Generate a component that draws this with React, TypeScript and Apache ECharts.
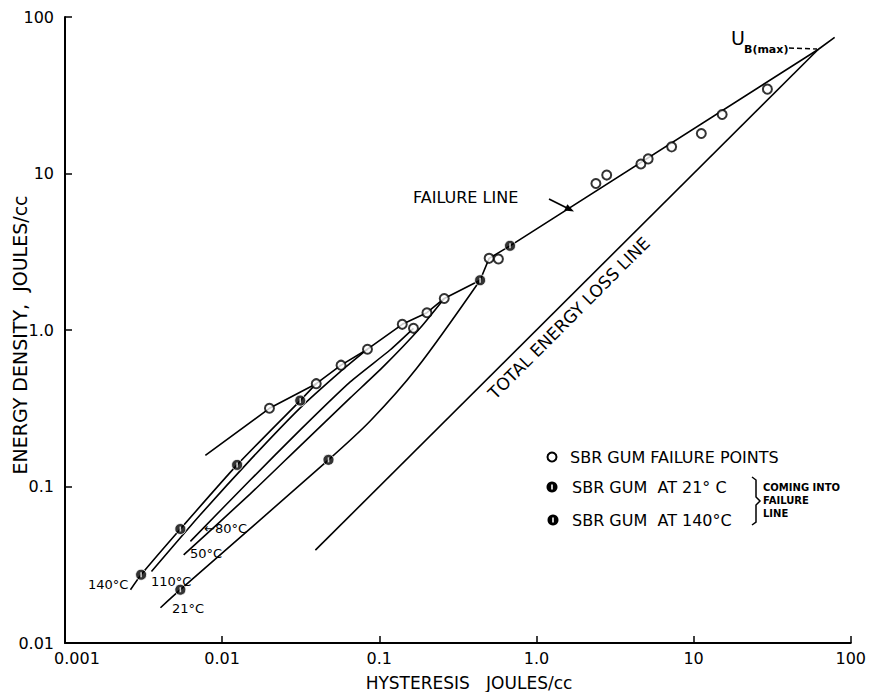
import React, { useEffect, useRef } from 'react';
import * as echarts from 'echarts';

// Tick labels
const xTickLabels = ['0.001', '0.01', '0.1', '1.0', '10', '100'];
const yTickLabels = ['0.01', '0.1', '1.0', '10', '100'];

// SBR gum failure points (open circles)
const failurePoints: [number, number][] = [
  [0.0200, 0.316], [0.0397, 0.454], [0.0571, 0.596], [0.0841, 0.754], [0.140, 1.087],
  [0.165, 1.025], [0.201, 1.29], [0.259, 1.59], [0.500, 2.87], [0.573, 2.84],
  [2.39, 8.64], [2.80, 9.77], [4.62, 11.5], [5.14, 12.4], [7.25, 14.8],
  [11.2, 18.0], [15.2, 23.8], [29.5, 34.6],
];
// SBR gum at 21 C (filled)
const gum21Points: [number, number][] = [
  [0.00542, 0.0219], [0.0475, 0.148], [0.438, 2.08], [0.679, 3.45],
];
// SBR gum at 140 C (filled)
const gum140Points: [number, number][] = [
  [0.00305, 0.0273], [0.00542, 0.0535], [0.01245, 0.1374], [0.0314, 0.354],
];

// Failure line
const failureLine: [number, number][] = [
  [0.00782, 0.158], [0.0200, 0.316], [0.0397, 0.454], [0.0571, 0.596], [0.0841, 0.754],
  [0.140, 1.087], [0.201, 1.29], [0.259, 1.59], [0.438, 2.08], [0.500, 2.87],
  [0.679, 3.45], [62, 62], [79, 74],
];
// Total energy loss line (y = x)
const totalLossLine: [number, number][] = [[0.0392, 0.0392], [62, 62]];

// Curves coming into the failure line
const curve140: [number, number][] = [
  [0.00261, 0.0219], [0.00305, 0.0273], [0.00542, 0.0535], [0.01245, 0.1374], [0.0314, 0.354], [0.0397, 0.454],
];
const curve110: [number, number][] = [
  [0.00355, 0.0286], [0.00726, 0.0659], [0.0151, 0.148], [0.0314, 0.318], [0.0563, 0.540], [0.0841, 0.754],
];
const curve80: [number, number][] = [
  [0.00628, 0.0446], [0.0151, 0.110], [0.0314, 0.230], [0.0653, 0.466], [0.117, 0.745], [0.165, 1.025],
];
const curve50: [number, number][] = [
  [0.00569, 0.0366], [0.0151, 0.0897], [0.0314, 0.182], [0.0653, 0.368], [0.106, 0.583], [0.182, 1.03], [0.259, 1.59],
];
const curve21: [number, number][] = [
  [0.00405, 0.0168], [0.00542, 0.0219], [0.0475, 0.148], [0.0875, 0.262], [0.173, 0.569], [0.438, 2.08],
];

const FONT = 'DejaVu Sans';

export default function App() {
  const ref = useRef<HTMLDivElement>(null);

  useEffect(() => {
    const chart = echarts.init(ref.current!, null, { renderer: 'svg' });
    const lineStyle = { color: '#000', width: 1.6 };
    const curve = (name: string, data: [number, number][], smooth: number | boolean = 0.2) => ({
      type: 'line', name, data, symbol: 'none', showSymbol: false, smooth,
      lineStyle, silent: true, z: 2,
    });
    const slit = (data: [number, number][]) => ({
      type: 'scatter', data, symbol: 'rect', symbolSize: [1.6, 5],
      itemStyle: { color: '#fff' }, silent: true, z: 6,
    });

    const t = (text: string, x: number, y: number, size: number, extra: any = {}) => ({
      type: 'text', x, y, rotation: extra.rotation || 0, z: 10,
      style: {
        text, fill: '#000', font: `${extra.weight || 'normal'} ${size}px ${FONT}`,
        align: extra.align || 'left', verticalAlign: 'middle',
      },
    });

    const option: any = {
      animation: false,
      backgroundColor: '#fff',
      grid: { left: 65, right: 18, top: 17, bottom: 49 },
      xAxis: {
        type: 'log', logBase: 10, min: 0.001, max: 100,
        axisLine: { show: true, lineStyle: { color: '#000', width: 2 } },
        axisTick: { show: true, inside: true, length: 7, lineStyle: { color: '#000', width: 1.5 } },
        splitLine: { show: false },
        axisLabel: {
          color: '#000', fontFamily: FONT, fontSize: 16, margin: 7,
          formatter: (v: number) => {
            const i = Math.round(Math.log10(v)) + 3;
            const s = xTickLabels[i] ?? '';
            return i === 0 ? `{first|${s}}` : s;
          },
          rich: { first: { color: '#000', fontFamily: FONT, fontSize: 16, padding: [0, 0, 0, 24] } },
        },
      },
      yAxis: {
        type: 'log', logBase: 10, min: 0.01, max: 100,
        axisLine: { show: true, lineStyle: { color: '#000', width: 2 } },
        axisTick: { show: true, inside: true, length: 7, lineStyle: { color: '#000', width: 1.5 } },
        splitLine: { show: false },
        axisLabel: {
          color: '#000', fontFamily: FONT, fontSize: 16, margin: 11,
          formatter: (v: number) => yTickLabels[Math.round(Math.log10(v)) + 2] ?? '',
        },
      },
      series: [
        curve('Failure line', failureLine, false),
        curve('Total energy loss line', totalLossLine, false),
        curve('140°C', curve140),
        curve('110°C', curve110),
        curve('80°C', curve80),
        curve('50°C', curve50),
        curve('21°C', curve21, 0.3),
        {
          type: 'scatter', name: 'SBR GUM FAILURE POINTS', data: failurePoints,
          symbol: 'circle', symbolSize: 9,
          itemStyle: { color: '#fff', borderColor: '#000', borderWidth: 2 }, z: 5,
        },
        {
          type: 'scatter', name: 'SBR GUM AT 21°C', data: gum21Points,
          symbol: 'circle', symbolSize: 11,
          itemStyle: { color: '#000', borderColor: '#fff', borderWidth: 1 }, z: 5,
        },
        {
          type: 'scatter', name: 'SBR GUM AT 140°C', data: gum140Points,
          symbol: 'circle', symbolSize: 11,
          itemStyle: { color: '#000', borderColor: '#fff', borderWidth: 1 }, z: 5,
        },
        slit(gum21Points),
        slit(gum140Points),
      ],
      graphic: [
        // axis names
        t('HYSTERESIS   JOULES/cc', 469, 683, 17, { align: 'center' }),
        t('ENERGY DENSITY,  JOULES/cc', 20, 335, 19, { align: 'center', rotation: Math.PI / 2 }),
        // failure line label + arrow
        t('FAILURE LINE', 413, 197, 16),
        { type: 'line', shape: { x1: 549, y1: 199, x2: 570, y2: 209.5 }, style: { stroke: '#000', lineWidth: 1.6 }, z: 10 },
        { type: 'polygon', shape: { points: [[574, 211.5], [564.2, 210.5], [567.4, 204.3]] }, style: { fill: '#000' }, z: 10 },
        // total energy loss label
        t('TOTAL ENERGY LOSS LINE', 569, 318, 17, { align: 'center', rotation: Math.PI / 4 }),
        // U_B(max)
        t('U', 731, 38, 19),
        t('B(max)', 744, 49, 11, { weight: 'bold' }),
        { type: 'line', shape: { x1: 789, y1: 48, x2: 817, y2: 49 }, style: { stroke: '#000', lineWidth: 1.4, lineDash: [5, 3] }, z: 10 },
        // temperature labels
        t('140°C', 88, 584, 13),
        t('110°C', 151, 581, 13),
        t('←80°C', 204, 528, 13),
        t('50°C', 190, 553, 13),
        t('21°C', 172, 608, 13),
        // legend
        { type: 'circle', shape: { cx: 552, cy: 457, r: 4.5 }, style: { fill: '#fff', stroke: '#000', lineWidth: 2 }, z: 10 },
        t('SBR GUM FAILURE POINTS', 570, 457, 16),
        { type: 'circle', shape: { cx: 552, cy: 487, r: 5.5 }, style: { fill: '#000' }, z: 10 },
        { type: 'rect', shape: { x: 551.2, y: 484.5, width: 1.6, height: 5 }, style: { fill: '#fff' }, z: 11 },
        t('SBR GUM  AT 21° C', 572, 487, 16),
        { type: 'circle', shape: { cx: 553, cy: 520, r: 5.5 }, style: { fill: '#000' }, z: 10 },
        { type: 'rect', shape: { x: 552.2, y: 517.5, width: 1.6, height: 5 }, style: { fill: '#fff' }, z: 11 },
        t('SBR GUM  AT 140°C', 572, 520, 16),
        {
          type: 'polyline',
          shape: { points: [[752, 477], [756, 480], [756, 497], [760, 501], [756, 505], [756, 522], [752, 525]] },
          style: { stroke: '#000', lineWidth: 1.5, fill: 'none' }, z: 10,
        },
        t('COMING INTO', 763, 487, 10, { weight: 'bold' }),
        t('FAILURE', 763, 500, 10, { weight: 'bold' }),
        t('LINE', 763, 513, 10, { weight: 'bold' }),
      ],
    };
    chart.setOption(option);
    return () => chart.dispose();
  }, []);

  return <div ref={ref} style={{ position: 'fixed', left: 0, top: 0, width: 869, height: 692 }} />;
}
